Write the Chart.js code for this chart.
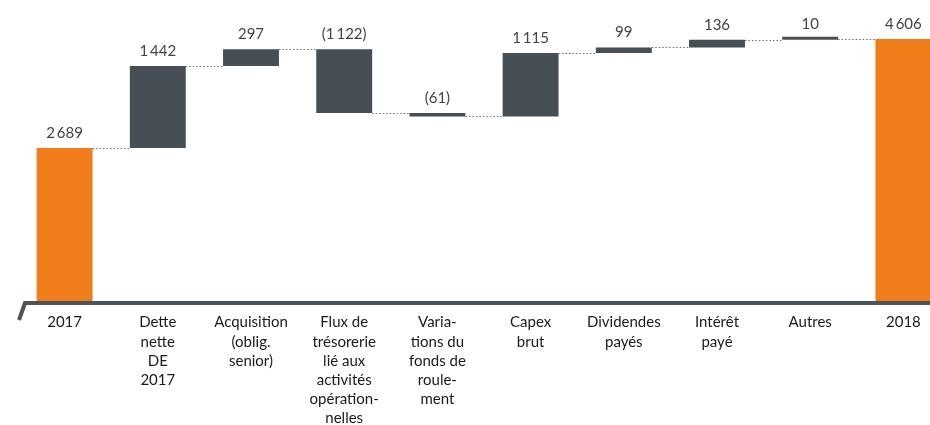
<!DOCTYPE html>
<html>
<head>
<meta charset="utf-8">
<script src="https://cdn.jsdelivr.net/npm/chart.js@4"></script>
<style>
  html, body { margin: 0; padding: 0; background: #fff; overflow: hidden; }
  #wrap { position: absolute; left: 0; top: 0; width: 950px; height: 425px; }
</style>
</head>
<body>
<div id="wrap"><canvas id="waterfall"></canvas></div>
<script>
var categories = [
    ["2017"],
    ["Dette", "nette", "DE", "2017"],
    ["Acquisition", "(oblig.", "senior)"],
    ["Flux de", "trésorerie", "lié aux", "activités", "opération-", "nelles"],
    ["Varia-", "tions du", "fonds de", "roule-", "ment"],
    ["Capex", "brut"],
    ["Dividendes", "payés"],
    ["Intérêt", "payé"],
    ["Autres"],
    ["2018"]
];
var values = [2689, 1442, 297, -1122, -61, 1115, 99, 136, 10, 4606];
var isTotal = [true, false, false, false, false, false, false, false, false, true];

var orange = '#ee7d1a';
var slate = '#454f55';

// floating bars built from the running total
var ranges = [];
var running = 0;
for (var i = 0; i < values.length; i++) {
    if (isTotal[i]) {
        ranges.push([0, values[i]]);
        running = values[i];
    } else {
        ranges.push([running, running + values[i]]);
        running = running + values[i];
    }
}

function fmt(v) {
    var s = Math.abs(v).toString().replace(/\B(?=(\d{3})+(?!\d))/g, '\u2009');
    return v < 0 ? '(' + s + ')' : s;
}

var waterfallExtras = {
    id: 'waterfallExtras',
    afterDatasetsDraw: function(chart) {
        var ctx = chart.ctx;
        var meta = chart.getDatasetMeta(0);
        var y = chart.scales.y;
        var area = chart.chartArea;

        // dotted connectors
        ctx.save();
        ctx.strokeStyle = '#6b6f72';
        ctx.lineWidth = 1;
        ctx.setLineDash([1.5, 2]);
        for (var i = 0; i < meta.data.length - 1; i++) {
            var a = meta.data[i].getProps(['x', 'width'], true);
            var b = meta.data[i + 1].getProps(['x', 'width'], true);
            var lvl = Math.round(y.getPixelForValue(ranges[i][1])) + 0.5;
            ctx.beginPath();
            ctx.moveTo(a.x + a.width / 2, lvl);
            ctx.lineTo(b.x - b.width / 2, lvl);
            ctx.stroke();
        }
        ctx.restore();

        // value labels
        ctx.save();
        ctx.font = '15px Lato, "Open Sans", sans-serif';
        ctx.fillStyle = '#3f4447';
        ctx.textAlign = 'center';
        ctx.textBaseline = 'middle';
        meta.data.forEach(function(bar, i) {
            var top = y.getPixelForValue(Math.max(ranges[i][0], ranges[i][1]));
            ctx.fillText(fmt(values[i]), bar.x, top - 15);
        });
        ctx.restore();

        // base axis with broken-axis tick
        ctx.save();
        ctx.strokeStyle = '#4a545a';
        ctx.lineWidth = 4;
        ctx.lineJoin = 'miter';
        var base = area.bottom + 2;
        ctx.beginPath();
        ctx.moveTo(19, base + 17);
        ctx.lineTo(25, base);
        ctx.lineTo(chart.width, base);
        ctx.stroke();
        ctx.restore();
    }
};

new Chart(document.getElementById('waterfall'), {
    type: 'bar',
    data: {
        labels: categories,
        datasets: [{
            data: ranges,
            backgroundColor: isTotal.map(function(t) { return t ? orange : slate; }),
            barPercentage: 0.6,
            categoryPercentage: 1.0,
            minBarLength: 3
        }]
    },
    options: {
        responsive: true,
        maintainAspectRatio: false,
        animation: false,
        layout: { padding: { left: 18, right: 0, top: 11, bottom: 0 } },
        plugins: {
            legend: { display: false },
            tooltip: { enabled: false }
        },
        scales: {
            x: {
                grid: { display: false, drawBorder: false },
                border: { display: false },
                ticks: {
                    color: '#1a1a1a',
                    font: { family: 'Lato, "Open Sans", sans-serif', size: 15, lineHeight: 1.28 },
                    padding: 4,
                    maxRotation: 0,
                    autoSkip: false
                },
                afterFit: function(scale) { scale.height = 124; }
            },
            y: {
                display: false,
                min: 0,
                max: 5100
            }
        }
    },
    plugins: [waterfallExtras]
});
</script>
</body>
</html>
